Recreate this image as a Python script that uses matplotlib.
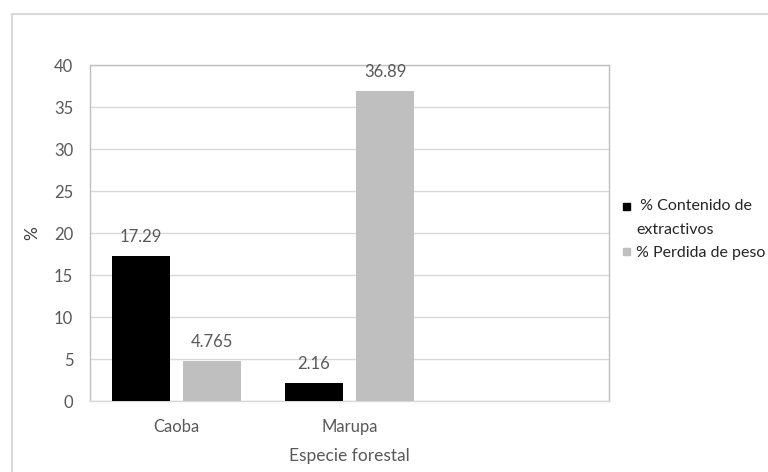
import numpy as np
import matplotlib.pyplot as plt
from matplotlib.patches import Rectangle
from matplotlib.lines import Line2D

especies = ["Caoba", "Marupa", ""]
extractivos = [17.29, 2.16, np.nan]
perdida_peso = [4.765, 36.89, np.nan]
etiquetas_ext = ["17.29", "2.16", ""]
etiquetas_per = ["4.765", "36.89", ""]
series = [" % Contenido de\nextractivos", "% Perdida de peso"]
colores = ["black", "#bfbfbf"]

W, H = 768, 472
gris_texto = "#595959"
plt.rcParams["font.family"] = ["Lato", "DejaVu Sans"]
plt.rcParams["font.size"] = 12


def fx(px):
    return px / W


def fy(py):
    return 1 - py / H


fig = plt.figure(figsize=(W / 100, H / 100), dpi=100)
ax = fig.add_axes([fx(90), fy(401), 519 / W, 336 / H])

x = np.arange(len(especies))
w = 0.335
b1 = ax.bar(x - 0.207, extractivos, w, color=colores[0], zorder=3)
b2 = ax.bar(x + 0.207, perdida_peso, w, color=colores[1], zorder=3)

for rects, labs in ((b1, etiquetas_ext), (b2, etiquetas_per)):
    for r, lab in zip(rects, labs):
        if lab:
            ax.annotate(lab, (r.get_x() + r.get_width() / 2, r.get_height()),
                        xytext=(0, 13.5), textcoords="offset points",
                        ha="center", va="center", color=gris_texto,
                        fontsize=12)

ax.set_xlim(-0.5, 2.5)
ax.set_ylim(0, 40)
ax.set_yticks(range(0, 41, 5))
ax.set_xticks(x)
ax.set_xticklabels(especies)
ax.yaxis.grid(True, color="#d9d9d9", lw=1, zorder=0)
ax.tick_params(length=0, colors=gris_texto, labelsize=12)
ax.tick_params(axis="y", pad=12)
ax.tick_params(axis="x", pad=13)
for s in ax.spines.values():
    s.set_color("#bfbfbf")
    s.set_linewidth(1)
ax.spines["bottom"].set_color("#d9d9d9")

ax.set_xlabel("Especie forestal", color=gris_texto, fontsize=12.5, labelpad=9)
ax.set_ylabel("%", color="#404040", fontsize=12.5, labelpad=10, rotation=90)

# leyenda a mano: cuadro alineado con la primera linea del texto
for (cuadro_y, texto_y), etiqueta, c in zip(((203, 199), (248, 246)),
                                             series, colores):
    fig.add_artist(Rectangle((fx(623), fy(cuadro_y + 7)), 7 / W, 7 / H,
                             transform=fig.transFigure, color=c))
    fig.text(fx(636), fy(texto_y), etiqueta, ha="left", va="top",
             fontsize=11.5, color="#262626", linespacing=1.95,
             transform=fig.transFigure)

fig.add_artist(Line2D([fx(12), fx(12)], [0, fy(14)],
                      color="#d9d9d9", lw=1.5))
fig.add_artist(Line2D([fx(12), 1], [fy(14), fy(14)],
                      color="#d9d9d9", lw=1.5))

fig.savefig("out.png", dpi=100)
